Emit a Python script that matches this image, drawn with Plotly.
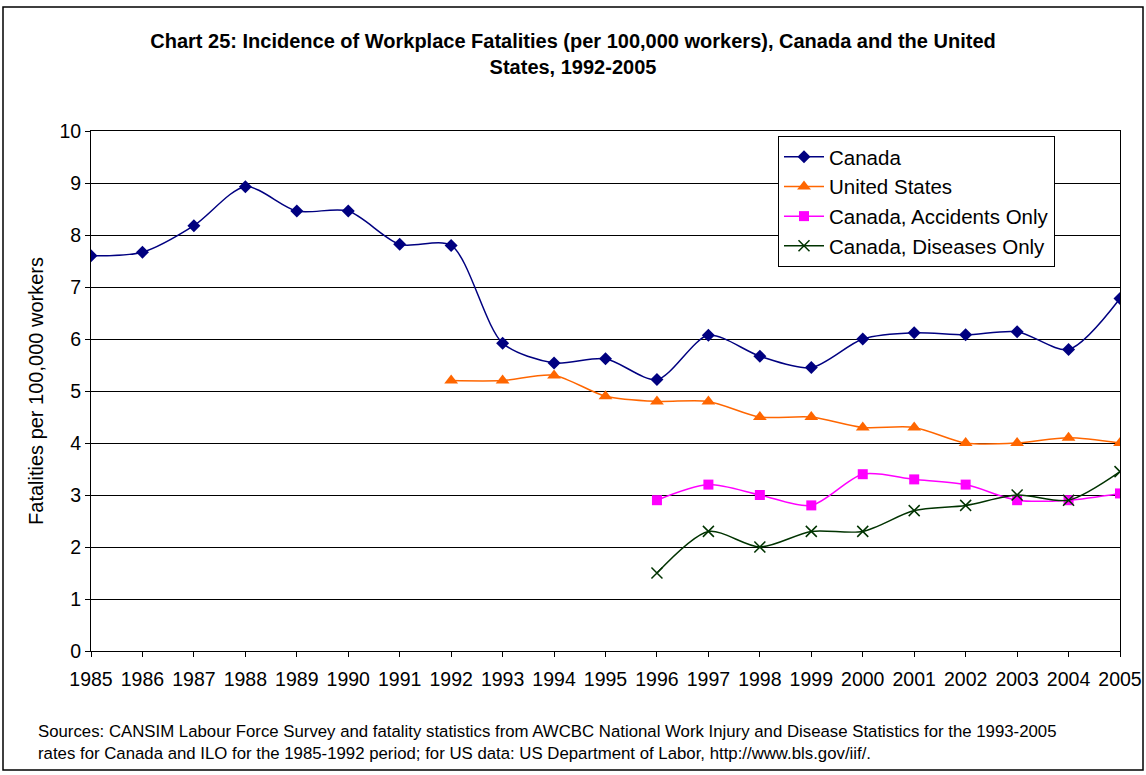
import plotly.graph_objects as go

years = list(range(1985, 2006))
canada = [7.6, 7.67, 8.18, 8.93, 8.46, 8.46, 7.82, 7.8, 5.92, 5.54, 5.62, 5.22, 6.07, 5.67, 5.45, 6.0, 6.12, 6.08, 6.14, 5.8, 6.78]
us_years = list(range(1992, 2006))
united_states = [5.2, 5.2, 5.3, 4.9, 4.8, 4.8, 4.5, 4.5, 4.3, 4.3, 4.0, 4.0, 4.1, 4.0]
sub_years = list(range(1996, 2006))
accidents = [2.9, 3.2, 3.0, 2.8, 3.4, 3.3, 3.2, 2.9, 2.9, 3.03]
diseases = [1.5, 2.3, 2.0, 2.3, 2.3, 2.7, 2.8, 3.0, 2.9, 3.45]

FONT = "Liberation Sans, Arial, sans-serif"
fig = go.Figure()
fig.add_trace(go.Scatter(x=years, y=canada, name="Canada", mode="lines+markers",
                         line=dict(color="#000080", width=1.5, shape="spline", smoothing=0.8),
                         marker=dict(symbol="diamond", size=10, color="#000080")))
fig.add_trace(go.Scatter(x=us_years, y=united_states, name="United States", mode="lines+markers",
                         line=dict(color="#FF6600", width=1.5, shape="spline", smoothing=0.8),
                         marker=dict(symbol="triangle-up", size=12, color="#FF6600")))
fig.add_trace(go.Scatter(x=sub_years, y=accidents, name="Canada, Accidents Only", mode="lines+markers",
                         line=dict(color="#FF00FF", width=1.5, shape="spline", smoothing=0.8),
                         marker=dict(symbol="square", size=10, color="#FF00FF")))
fig.add_trace(go.Scatter(x=sub_years, y=diseases, name="Canada, Diseases Only", mode="lines+markers",
                         line=dict(color="#003300", width=1.5, shape="spline", smoothing=0.8),
                         marker=dict(symbol="x-thin-open", size=11, color="#003300",
                                     line=dict(color="#003300", width=1.5))))

W, H = 1146, 775
L, R, T, B = 91, 26, 131, 124
PW = W - L - R
PH = H - T - B
def px(xp): return (xp - L) / PW
def py(yp): return (H - B - yp) / PH

fig.update_layout(
    width=W, height=H, autosize=False,
    margin=dict(l=L, r=R, t=T, b=B),
    paper_bgcolor="white", plot_bgcolor="white",
    font=dict(family=FONT, size=19, color="black"),
    title=dict(text="<b>Chart 25: Incidence of Workplace Fatalities (per 100,000 workers), Canada and the United<br>States, 1992-2005</b>",
               x=0.5, xanchor="center", y=1 - 48 / H, yanchor="top",
               font=dict(family=FONT, size=20, color="black")),
    showlegend=True,
    legend=dict(x=px(778), y=py(136), xanchor="left", yanchor="top",
                bgcolor="white", bordercolor="black", borderwidth=1,
                font=dict(family=FONT, size=20.5), tracegroupgap=0, itemwidth=40),
    xaxis=dict(range=[1985, 2005], tickmode="array", tickvals=years, ticktext=[str(y) for y in years],
               showgrid=False, showline=True, linecolor="black", linewidth=1, mirror=True,
               ticks="outside", ticklen=5, tickcolor="black", zeroline=False, automargin=False,
               tickfont=dict(size=19.5), ticklabelstandoff=6),
    yaxis=dict(range=[0, 10], dtick=1, showgrid=True, gridcolor="black", gridwidth=1,
               showline=True, linecolor="black", linewidth=1, mirror=True,
               ticks="outside", ticklen=5, tickcolor="black", zeroline=False, automargin=False,
               tickfont=dict(size=19.5),
               title=dict(text="Fatalities per 100,000 workers", font=dict(size=20), standoff=10)),
)
fig.update_xaxes(ticklabeloverflow="allow")
fig.add_annotation(xref="paper", yref="paper", x=px(36), y=py(720), xanchor="left", yanchor="top",
                   align="left", showarrow=False,
                   text="Sources: CANSIM Labour Force Survey and fatality statistics from AWCBC National Work Injury and Disease Statistics for the 1993-2005<br>rates for Canada and ILO for the 1985-1992 period; for US data: US Department of Labor, http://www.bls.gov/iif/.",
                   font=dict(family=FONT, size=16.8, color="black"))
fig.add_shape(type="rect", xref="paper", yref="paper", x0=px(3), x1=px(1143), y0=py(770), y1=py(7),
              line=dict(color="black", width=1.5), layer="below")
fig.write_html("out.html", config={"displayModeBar": False, "responsive": False},
               post_script="document.body.style.margin='0';document.body.style.overflow='hidden';")
